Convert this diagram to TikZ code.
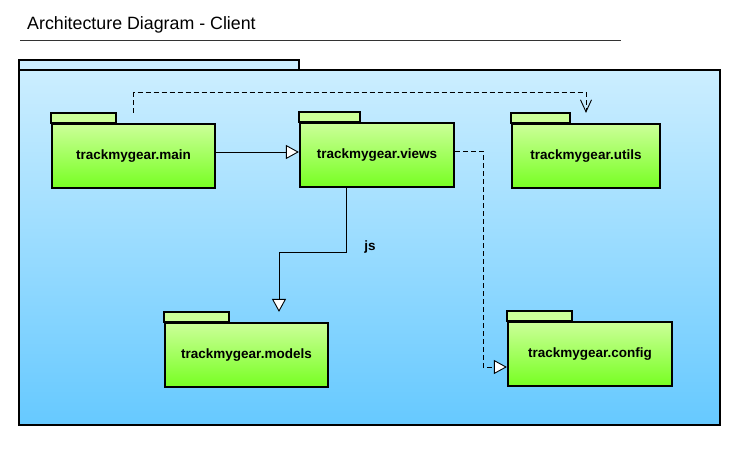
\documentclass[tikz,border=0pt]{standalone}
\usepackage{fontspec}
\setmainfont{Liberation Sans}
\usetikzlibrary{arrows.meta, positioning}
\definecolor{pkg_top}{RGB}{204,255,153}
\definecolor{pkg_bot}{RGB}{119,255,34}
\definecolor{sys_top}{RGB}{204,238,255}
\definecolor{sys_bot}{RGB}{102,201,255}
\tikzset{
  pkg/.style={draw, line width=2.2pt, top color=pkg_top, bottom color=pkg_bot,
    minimum height=64pt, font=\fontsize{13.5}{15}\selectfont\bfseries, inner sep=0pt},
  pkgtab/.style={draw, line width=2.2pt, fill=pkg_top},
  gen/.style={line width=0.9pt, -{Triangle[length=13pt, width=14pt, fill=white]}},
  dep/.style={line width=0.9pt, dash pattern=on 5pt off 3pt},
}
\begin{document}
\begin{tikzpicture}[x=1pt, y=-1pt]
  \useasboundingbox (0,0) rectangle (742,448);
  % title
  \node[anchor=base west, inner sep=0pt, font=\fontsize{17.8}{20}\selectfont] (title) at (27,29) {Architecture Diagram - Client};
  \draw[line width=0.9pt, black!80] (20,40) -- (621,40);
  % system package
  \filldraw[line width=2.2pt, fill=sys_top] (19,60) rectangle (299,70);
  \filldraw[line width=2.2pt, top color=sys_top, bottom color=sys_bot] (19,70) rectangle (720,425);
  % packages
  \node[pkg, minimum width=163pt] (main) at (133.5,156) {trackmygear.main};
  \node[pkg, minimum width=154pt] (views) at (377,155) {trackmygear.views};
  \node[pkg, minimum width=148pt] (utils) at (586,156) {trackmygear.utils};
  \node[pkg, minimum width=163pt] (models) at (246.5,355) {trackmygear.models};
  \node[pkg, minimum width=164pt] (config) at (590,354) {trackmygear.config};
  \filldraw[pkgtab] (main.north west) rectangle ++(65,-10);
  \filldraw[pkgtab] (views.north west) rectangle ++(61,-10);
  \filldraw[pkgtab] (utils.north west) rectangle ++(59,-10);
  \filldraw[pkgtab] (models.north west) rectangle ++(65,-10);
  \filldraw[pkgtab] (config.north west) rectangle ++(65,-10);
  % connectors
  \draw[gen] ([yshift=4pt]main.east) -- ([yshift=4pt]main.east -| views.west);
  \draw[gen] ([xshift=-31pt]views.south) -- ++(0,64) -| ([xshift=32.5pt, yshift=10pt]models.north);
  \node[font=\fontsize{13.5}{15}\selectfont\bfseries] (js) at (370,247) {js};
  \draw[dep, -{Triangle[length=13pt, width=14pt, fill=white, line width=0.9pt]}]
    ([yshift=4pt]views.east) -- ++(28,0) |- ([yshift=-13pt]config.west);
  \draw[dep, -{Straight Barb[length=12pt, width=11pt, line width=0.9pt]}]
    ([yshift=10pt]main.north) -- ++(0,-20) -| ([yshift=10pt]utils.north);
\end{tikzpicture}
\end{document}
